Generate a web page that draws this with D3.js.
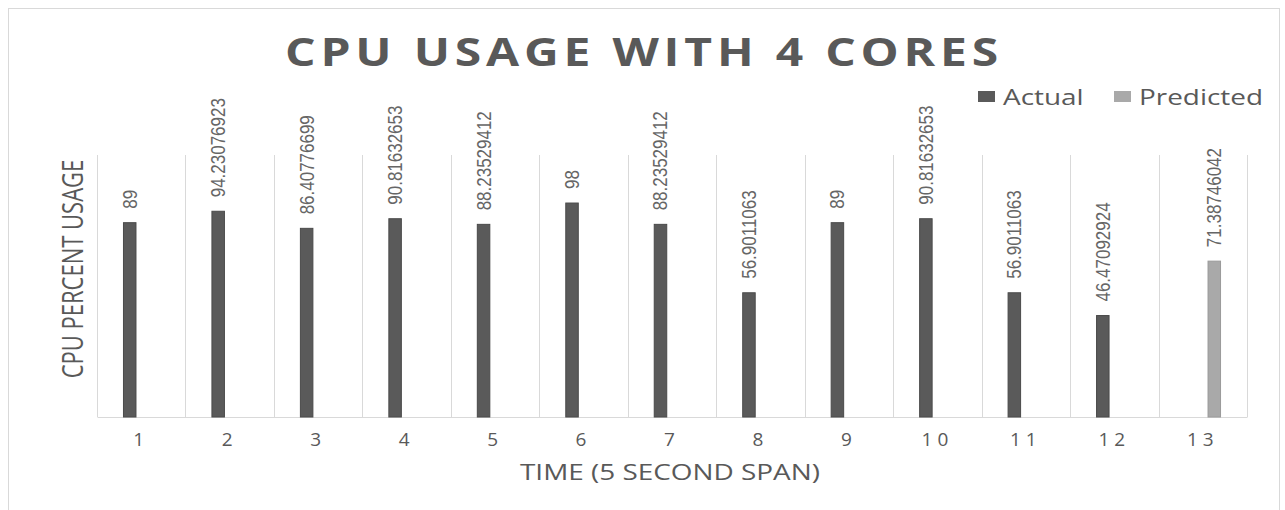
<!DOCTYPE html>
<html>
<head>
<meta charset="utf-8">
<script src="https://cdn.jsdelivr.net/npm/d3@7"></script>
<style>
  html, body { margin: 0; padding: 0; background: #fff; }
  svg { display: block; }
</style>
</head>
<body>
<svg id="chart" width="1285" height="510"></svg>
<script>
// Time steps (5 second spans)
const categories = ["1","2","3","4","5","6","7","8","9","10","11","12","13"];
const seriesNames = ["Actual", "Predicted"];
const actualValues = [89, 94.23076923, 86.40776699, 90.81632653, 88.23529412, 98,
                      88.23529412, 56.9011063, 89, 90.81632653, 56.9011063, 46.47092924, null];
const predictedValues = [null, null, null, null, null, null, null, null, null, null, null, null, 71.38746042];
const seriesColors = ["#5a5a5a", "#a9a9a9"];
const yDomain = [0, 120];

const svg = d3.select("#chart");
const W = 1285, H = 510;
const margin = { left: 97, right: 38, top: 155, bottom: 93 };
const plotW = W - margin.left - margin.right;
const plotH = H - margin.top - margin.bottom;
const STRETCH = 1.33; // wide lettering used throughout the chart

// outer chart frame
svg.append("rect")
  .attr("x", 8.5).attr("y", 8.5)
  .attr("width", 1271).attr("height", 520)
  .attr("fill", "#fff").attr("stroke", "#d9d9d9").attr("stroke-width", 1);

const g = svg.append("g").attr("transform", `translate(${margin.left},${margin.top})`);

const x0 = d3.scaleBand().domain(categories).range([0, plotW]).paddingInner(0).paddingOuter(0);
const x1 = d3.scaleBand().domain(seriesNames).range([0, x0.bandwidth()])
  .paddingInner(0.457).paddingOuter(1.15);
const y = d3.scaleLinear().domain(yDomain).range([plotH, 0]);

// vertical gridlines at category boundaries
const boundaries = categories.map(c => x0(c)).concat([x0.range()[1]]);
g.append("g").selectAll("line").data(boundaries).join("line")
  .attr("x1", d => Math.round(d) + 0.5).attr("x2", d => Math.round(d) + 0.5)
  .attr("y1", 0).attr("y2", plotH)
  .attr("stroke", "#d9d9d9").attr("stroke-width", 1);

// category axis
const xAxis = g.append("g").attr("transform", `translate(0,${plotH})`)
  .call(d3.axisBottom(x0).tickSize(0).tickPadding(16));
xAxis.select(".domain").attr("stroke", "#d9d9d9");
xAxis.selectAll("text")
  .attr("font-family", "'Open Sans', sans-serif")
  .attr("font-size", 19)
  .attr("letter-spacing", 5)
  .attr("fill", "#595959");

const rows = categories.map((c, i) => ({ cat: c, values: [actualValues[i], predictedValues[i]] }));

const groups = g.append("g").selectAll("g").data(rows).join("g")
  .attr("transform", d => `translate(${x0(d.cat)},0)`);

const marks = groups.selectAll("g.mark")
  .data(d => seriesNames.map((s, k) => ({ series: s, k, value: d.values[k] })).filter(e => e.value != null))
  .join("g").attr("class", "mark");

marks.append("rect")
  .attr("x", d => x1(d.series))
  .attr("width", x1.bandwidth())
  .attr("y", d => y(d.value))
  .attr("height", d => plotH - y(d.value))
  .attr("fill", d => seriesColors[d.k])
  .attr("stroke", d => d.k === 0 ? "#4a4a4a" : "#9a9a9a")
  .attr("stroke-width", 1);

// rotated value labels above each bar
marks.append("text")
  .attr("transform", d => `translate(${x1(d.series) + x1.bandwidth() / 2},${y(d.value) - 14}) scale(1.15,1) rotate(-90)`)
  .attr("text-anchor", "start")
  .attr("dominant-baseline", "central")
  .attr("font-family", "'Liberation Sans', sans-serif")
  .attr("font-size", 17)
  .attr("fill", "#666")
  .text(d => String(d.value));

// title
svg.append("text")
  .attr("transform", `translate(644,66) scale(1.2,1)`)
  .attr("text-anchor", "middle")
  .attr("font-family", "'Open Sans', sans-serif")
  .attr("font-weight", 700)
  .attr("font-size", 40)
  .attr("letter-spacing", 4)
  .attr("fill", "#595959")
  .text("CPU  USAGE  WITH  4  CORES");

// legend
const legend = svg.append("g");
const legendItems = [{ name: "Actual", x: 978 }, { name: "Predicted", x: 1114 }];
legendItems.forEach((it, k) => {
  legend.append("rect")
    .attr("x", it.x).attr("y", 91).attr("width", 17).attr("height", 11)
    .attr("fill", seriesColors[k]);
  legend.append("text")
    .attr("transform", `translate(${it.x + 25},97) scale(${STRETCH},1)`)
    .attr("dominant-baseline", "central")
    .attr("font-family", "'Open Sans', sans-serif")
    .attr("font-size", 21)
    .attr("fill", "#595959")
    .text(it.name);
});

// axis titles
svg.append("text")
  .attr("transform", `translate(72,269) scale(1.3,1) rotate(-90)`)
  .attr("text-anchor", "middle")
  .attr("dominant-baseline", "central")
  .attr("font-family", "'Open Sans', sans-serif")
  .attr("font-size", 22)
  .attr("fill", "#595959")
  .text("CPU PERCENT USAGE");

svg.append("text")
  .attr("transform", `translate(670,472) scale(${STRETCH},1)`)
  .attr("text-anchor", "middle")
  .attr("dominant-baseline", "central")
  .attr("font-family", "'Open Sans', sans-serif")
  .attr("font-size", 21)
  .attr("fill", "#595959")
  .text("TIME (5 SECOND SPAN)");
</script>
</body>
</html>
